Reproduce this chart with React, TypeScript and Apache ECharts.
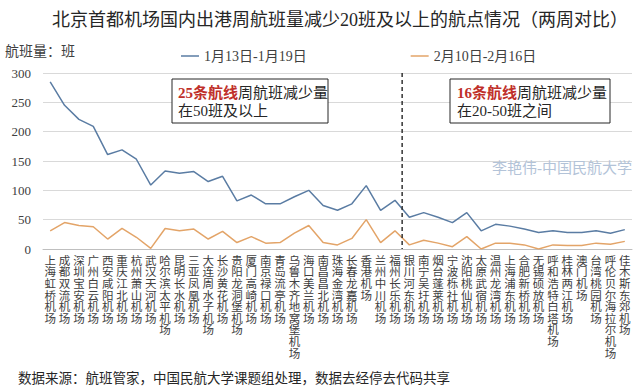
import React, { useEffect, useRef } from "react";
import * as echarts from "echarts";

const categories = [
  "上海虹桥机场", "成都双流机场", "深圳宝安机场", "广州白云机场", "西安咸阳机场",
  "重庆江北机场", "杭州萧山机场", "武汉天河机场", "哈尔滨太平机场", "昆明长水机场",
  "三亚凤凰机场", "大连周水子机场", "长沙黄花机场", "贵阳龙洞堡机场", "厦门高崎机场",
  "南京禄口机场", "青岛流亭机场", "乌鲁木齐地窝堡机场", "海口美兰机场", "南昌昌北机场",
  "珠海金湾机场", "长春龙嘉机场", "香港机场", "兰州中川机场", "福州长乐机场",
  "银川河东机场", "南宁吴圩机场", "烟台蓬莱机场", "宁波栎社机场", "沈阳桃仙机场",
  "太原武宿机场", "温州龙湾机场", "上海浦东机场", "合肥新桥机场", "无锡硕放机场",
  "呼和浩特白塔机场", "桂林两江机场", "澳门机场", "台湾桃园机场", "呼伦贝尔海拉尔机场",
  "佳木斯东郊机场",
];

const seriesNames = ["1月13日-1月19日", "2月10日-2月16日"];

const weekJan = [
  285, 245, 221, 209, 161, 169, 153, 109, 133, 129,
  132, 115, 124, 82, 92, 77, 77, 89, 100, 74,
  66, 77, 108, 66, 83, 54, 62, 54, 45, 62,
  31, 42, 39, 34, 28, 31, 28, 28, 31, 27,
  33,
];

const weekFeb = [
  31, 45, 40, 38, 17, 35, 20, 1, 35, 31,
  34, 17, 30, 11, 21, 10, 11, 27, 40, 11,
  7, 18, 50, 11, 31, 7, 15, 10, 4, 21,
  0, 10, 10, 7, 0, 7, 6, 6, 10, 8,
  13,
];

const yTicks = { min: 0, max: 300, interval: 50 };

const FONT = "'Liberation Serif', 'Noto Sans CJK SC', serif";

export default function App() {
  const ref = useRef<HTMLDivElement>(null);

  useEffect(() => {
    if (!ref.current) return;
    const chart = echarts.init(ref.current, null, { renderer: "svg" });
    const option: any = {
      animation: false,
      backgroundColor: "#ffffff",
      textStyle: { fontFamily: FONT },
      grid: { left: 43, right: 8, top: 73, bottom: 142, containLabel: false },
      legend: {
        data: seriesNames,
        left: 176,
        top: 44,
        itemGap: 104,
        itemWidth: 18,
        itemHeight: 1.5,
        icon: "rect",
        textStyle: { fontFamily: FONT, fontSize: 14, color: "#404040" },
      },
      xAxis: {
        type: "category",
        data: categories,
        boundaryGap: true,
        axisTick: { show: false },
        axisLine: { lineStyle: { color: "#bfbfbf" } },
        axisLabel: {
          interval: 0,
          margin: 6,
          fontSize: 11.5,
          lineHeight: 11.6,
          color: "#404040",
          fontFamily: FONT,
          verticalAlign: "top",
          formatter: (v: string) => v.split("").join("\n"),
        },
      },
      yAxis: {
        type: "value",
        min: yTicks.min,
        max: yTicks.max,
        interval: yTicks.interval,
        axisLine: { show: false },
        axisTick: { show: false },
        splitLine: { lineStyle: { color: "#d9d9d9", width: 1 } },
        axisLabel: { fontSize: 13, color: "#404040", fontFamily: FONT, margin: 12 },
      },
      series: [
        {
          name: seriesNames[0],
          type: "line",
          data: weekJan,
          symbol: "none",
          lineStyle: { color: "#5a7ca3", width: 1.5 },
          itemStyle: { color: "#5a7ca3" },
        },
        {
          name: seriesNames[1],
          type: "line",
          data: weekFeb,
          symbol: "none",
          lineStyle: { color: "#e3a468", width: 1.5 },
          itemStyle: { color: "#e3a468" },
        },
      ],
    };
    chart.setOption(option);

    const p1 = chart.convertToPixel({ xAxisIndex: 0 }, categories[24]) as number;
    const p2 = chart.convertToPixel({ xAxisIndex: 0 }, categories[25]) as number;
    const yTop = chart.convertToPixel({ yAxisIndex: 0 }, 300) as number;
    const yBot = chart.convertToPixel({ yAxisIndex: 0 }, 0) as number;
    const xm = (p1 + p2) / 2;

    chart.setOption({
      graphic: [
        {
          type: "text",
          left: 52,
          top: 11,
          style: {
            text: "北京首都机场国内出港周航班量减少20班及以上的航点情况（两周对比）",
            font: `18px ${FONT}`,
            fill: "#262626",
          },
        },
        {
          type: "text",
          left: 5,
          top: 44,
          style: { text: "航班量：班", font: `14px ${FONT}`, fill: "#404040" },
        },
        {
          type: "line",
          shape: { x1: xm, y1: yTop, x2: xm, y2: yBot },
          style: { stroke: "#333333", lineWidth: 1.5, lineDash: [4, 3] },
          z: 10,
        },
        {
          type: "rect",
          shape: { x: 172, y: 79, width: 156, height: 44 },
          style: { fill: "#ffffff", stroke: "#262626", lineWidth: 1 },
          z: 10,
        },
        {
          type: "text",
          x: 178,
          y: 84,
          z: 11,
          style: {
            text: "{r|25条航线}{n|周航班减少量}\n{n|在50班及以上}",
            rich: {
              r: { fontSize: 15, fontWeight: "bold", fill: "#c0302a", fontFamily: FONT, lineHeight: 18 },
              n: { fontSize: 15, fill: "#262626", fontFamily: FONT, lineHeight: 18 },
            },
          },
        },
        {
          type: "rect",
          shape: { x: 450, y: 79, width: 160, height: 44 },
          style: { fill: "#ffffff", stroke: "#262626", lineWidth: 1 },
          z: 10,
        },
        {
          type: "text",
          x: 457,
          y: 84,
          z: 11,
          style: {
            text: "{r|16条航线}{n|周航班减少量}\n{n|在20-50班之间}",
            rich: {
              r: { fontSize: 15, fontWeight: "bold", fill: "#c0302a", fontFamily: FONT, lineHeight: 18 },
              n: { fontSize: 15, fill: "#262626", fontFamily: FONT, lineHeight: 18 },
            },
          },
        },
        {
          type: "text",
          right: 8,
          top: 160,
          z: 11,
          style: { text: "李艳伟-中国民航大学", font: `15px ${FONT}`, fill: "#b3c3d8" },
        },
        {
          type: "text",
          left: 18,
          top: 372,
          style: {
            text: "数据来源：航班管家，中国民航大学课题组处理，数据去经停去代码共享",
            font: `13.5px ${FONT}`,
            fill: "#262626",
          },
        },
      ],
    });

    return () => chart.dispose();
  }, []);

  return <div ref={ref} style={{ width: 640, height: 391, position: "absolute", left: 0, top: 0 }} />;
}
